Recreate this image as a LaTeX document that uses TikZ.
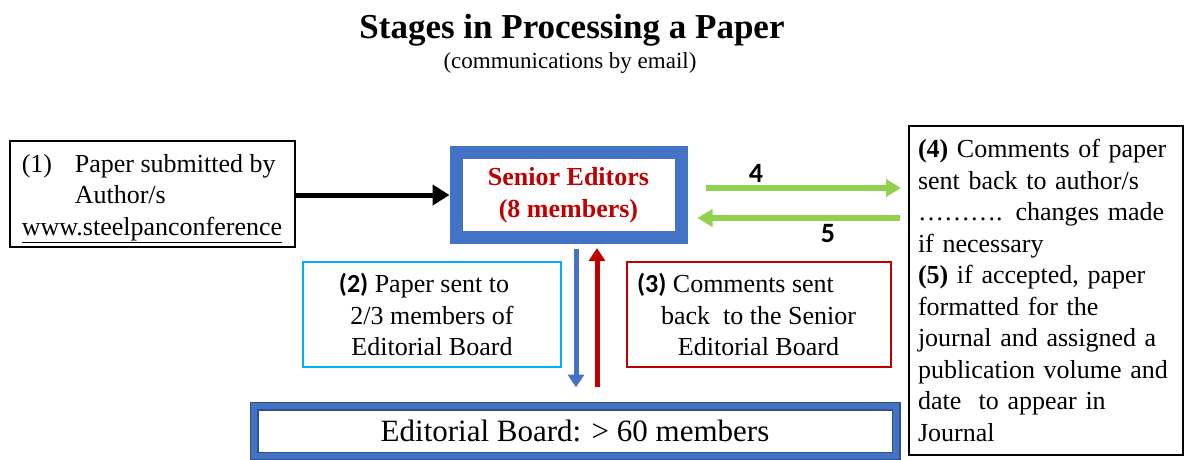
\documentclass[tikz,border=0pt]{standalone}
\usepackage{fontspec}
\setmainfont{Liberation Serif}
\newfontfamily\calfont{Carlito}
\usetikzlibrary{arrows.meta}
\definecolor{boxblue}{HTML}{4472C4}
\definecolor{edgeblue}{HTML}{2F528F}
\definecolor{arrgreen}{HTML}{92D050}
\definecolor{darkred}{HTML}{C00000}
\definecolor{skyblue}{HTML}{00B0F0}
\tikzset{
  txt/.style={font=\fontsize{26pt}{31.5pt}\selectfont, inner sep=0pt},
  plainbox/.style={draw=black, line width=2pt, rectangle, inner sep=0pt},
  thinbox/.style={rectangle, line width=2pt, inner sep=0pt, align=center, txt},
  numlabel/.style={font=\calfont\bfseries\fontsize{28pt}{30pt}\selectfont, inner sep=0pt},
  garrow/.style={draw=arrgreen, line width=6pt, -{Triangle[length=15pt,width=17pt]}},
  varrow/.style={line width=5pt, -{Triangle[length=13pt,width=16pt]}},
}
\newcommand{\bnum}[1]{{\calfont\bfseries #1}}
\begin{document}
\begin{tikzpicture}[x=1pt,y=-1pt]
\useasboundingbox (0,0) rectangle (1184,459);

% titles
\node[anchor=base, inner sep=0pt, font=\bfseries\fontsize{35pt}{40pt}\selectfont] (title) at (572,38) {Stages in Processing a Paper};
\node[anchor=base, inner sep=0pt, font=\fontsize{23pt}{27pt}\selectfont] (sub) at (570,68) {(communications by email)};

% box 1
\node[plainbox, minimum width=285pt, minimum height=106pt, txt, align=left] (b1) at (152,194)
  {\rule{0pt}{27pt}\makebox[53pt][l]{(1)}Paper submitted by\\\hspace*{53pt}Author/s\\\underline{www.steelpanconference}};

% senior editors
\node[rectangle, draw=boxblue, line width=13pt, minimum width=225pt, minimum height=85pt, inner sep=0pt,
      align=center, text=darkred, font=\bfseries\fontsize{26pt}{31.5pt}\selectfont] (se) at (568.5,195)
  {Senior Editors\\(8 members)};

% right box
\node[plainbox, minimum width=274pt, minimum height=329pt, txt, text width=256pt, align=left] (rb) at (1046,290.5)
  {\textbf{(4)} Comments of paper\\sent back to author/s\\………. changes made\\if necessary\\\textbf{(5)} if accepted, paper\\formatted for the\\journal and assigned a\\publication volume and\\date~ to appear in\\Journal};

% box 2 and box 3
\node[thinbox, draw=skyblue, minimum width=258pt, minimum height=105pt] (b2) at (432,314.5)
  {\bnum{(2)} Paper sent to\hspace*{16pt}\\2/3 members of\\Editorial Board};
\node[thinbox, draw=darkred, minimum width=264pt, minimum height=105pt] (b3) at (758.5,314.5)
  {\bnum{(3)} Comments sent\hspace*{46pt}\\back~ to the Senior\\Editorial Board};

% bottom box
\node[rectangle, draw=edgeblue, line width=9pt, postaction={draw=boxblue, line width=6.5pt},
      minimum width=642pt, minimum height=50pt, inner sep=0pt,
      font=\fontsize{31pt}{36pt}\selectfont] (bb) at (575,431)
  {Editorial Board: > 60 members};

% connectors
\draw[line width=5pt, -{Triangle[length=17pt,width=20pt]}] (b1.east |- se.west) -- (se.west);
\draw[garrow, shorten <=18pt, shorten >=7pt] (se.east |- 0,188) -- (rb.west |- 0,188);
\draw[garrow, shorten <=8pt, shorten >=10pt] (rb.west |- 0,218) -- (se.east |- 0,218);
\node[numlabel] (n4) at (756,173) {4};
\node[numlabel] (n5) at (828,234) {5};
\draw[varrow, draw=boxblue, shorten <=5pt, shorten >=14pt] (se.south -| 576,0) -- (bb.north -| 576,0);
\draw[varrow, draw=darkred, shorten <=15pt, shorten >=4pt] (bb.north -| 597,0) -- (se.south -| 597,0);
\end{tikzpicture}
\end{document}
